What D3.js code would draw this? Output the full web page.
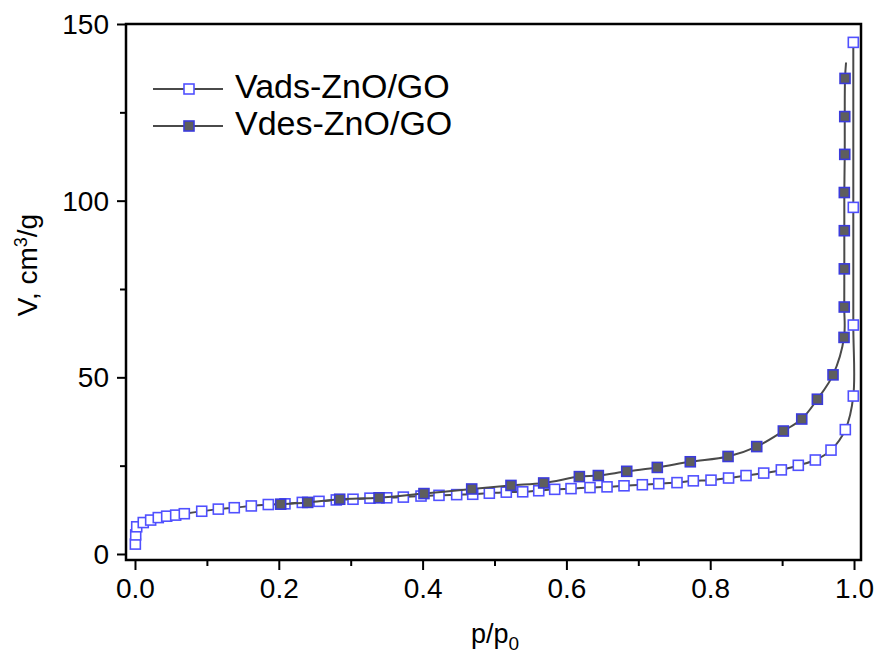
<!DOCTYPE html>
<html>
<head>
<meta charset="utf-8">
<script src="https://cdn.jsdelivr.net/npm/d3@7"></script>
<style>
  body { margin: 0; background: #fff; }
  svg text { font-family: "Liberation Sans", Arial, sans-serif; fill: #000; }
</style>
</head>
<body>
<svg id="chart"></svg>
<script>
// adsorption branch (p/p0, V cm3/g)
const adsP = [0.0005, 0.001, 0.0024, 0.0115, 0.0218, 0.0324, 0.0441, 0.0566, 0.0686, 0.0928,
  0.1159, 0.1381, 0.1618, 0.1854, 0.2086, 0.2327, 0.2559, 0.2800, 0.3032, 0.3268,
  0.3501, 0.3732, 0.3978, 0.4228, 0.4474, 0.4697, 0.4928, 0.5164, 0.5392, 0.5615,
  0.5837, 0.6064, 0.6328, 0.6565, 0.6801, 0.7056, 0.7284, 0.7538, 0.7765, 0.8011,
  0.8255, 0.8498, 0.8744, 0.8989, 0.9225, 0.9462, 0.9680, 0.9879, 0.9990, 0.9990,
  0.9990, 0.9990];
const adsV = [2.8, 5.4, 7.7, 8.9, 9.6, 10.3, 10.7, 11.0, 11.4, 12.1,
  12.7, 13.1, 13.6, 14.0, 14.2, 14.6, 14.9, 15.3, 15.5, 15.8,
  15.9, 16.1, 16.4, 16.6, 16.8, 16.9, 17.2, 17.5, 17.6, 17.9,
  18.3, 18.5, 18.8, 19.0, 19.3, 19.6, 19.9, 20.2, 20.7, 20.9,
  21.5, 22.2, 22.9, 23.8, 25.1, 26.6, 29.4, 35.2, 44.7, 64.8,
  98.1, 144.8];

// desorption branch; the first point is where the line starts (no symbol there)
const desP = [0.9889, 0.9875, 0.9871, 0.9871, 0.9865, 0.9865, 0.9865, 0.9864, 0.9861, 0.9708,
  0.9490, 0.9273, 0.9017, 0.8647, 0.8248, 0.7723, 0.7264, 0.6839, 0.6444, 0.6180,
  0.5684, 0.5229, 0.4683, 0.4019, 0.3394, 0.2847, 0.2402, 0.2026];
const desV = [139.1, 134.6, 123.8, 113.1, 102.3, 91.5, 80.7, 69.9, 61.3, 50.7,
  43.8, 38.2, 34.8, 30.4, 27.6, 26.1, 24.5, 23.4, 22.2, 21.9,
  20.1, 19.4, 18.4, 17.1, 15.9, 15.5, 14.6, 14.1];

const seriesNames = ['Vads-ZnO/GO', 'Vdes-ZnO/GO'];
const xTicks = [0, 0.2, 0.4, 0.6, 0.8, 1.0];
const xMinor = [0.1, 0.3, 0.5, 0.7, 0.9];
const yTicks = [0, 50, 100, 150];
const yMinor = [25, 75, 125];

const W = 881, H = 654;
const svg = d3.select('#chart').attr('width', W).attr('height', H);

const x = d3.scaleLinear().domain([-0.0125, 1.0097]).range([126, 861]);
const y = d3.scaleLinear().domain([-1.7, 150]).range([560, 24]);

const ads = adsP.map((p, i) => ({p: p, v: adsV[i]}));
const des = desP.map((p, i) => ({p: p, v: desV[i]}));

// axes
const fontSize = 28;
const xAxis = svg.append('g')
  .attr('transform', `translate(0,${y.range()[0]})`)
  .call(d3.axisBottom(x).tickValues(xTicks).tickSize(10).tickPadding(8)
    .tickFormat(d3.format('.1f')));
svg.append('g')
  .attr('transform', `translate(0,${y.range()[0]})`)
  .call(d3.axisBottom(x).tickValues(xMinor).tickSize(6).tickFormat(''))
  .call(g => g.select('.domain').remove());

const yAxis = svg.append('g')
  .attr('transform', `translate(${x.range()[0]},0)`)
  .call(d3.axisLeft(y).tickValues(yTicks).tickSize(9).tickPadding(8));
svg.append('g')
  .attr('transform', `translate(${x.range()[0]},0)`)
  .call(d3.axisLeft(y).tickValues(yMinor).tickSize(6).tickFormat(''))
  .call(g => g.select('.domain').remove());

svg.selectAll('.tick line').attr('stroke', '#000').attr('stroke-width', 2);
svg.selectAll('.domain').remove();
svg.selectAll('.tick text')
  .style('font-size', fontSize + 'px')
  .style('font-family', '"Liberation Sans", Arial, sans-serif');
xAxis.selectAll('.tick text').attr('dy', '0.71em');
yAxis.selectAll('.tick text').attr('dy', '0.34em');

// frame
svg.append('rect')
  .attr('x', x.range()[0]).attr('y', y.range()[1])
  .attr('width', x.range()[1] - x.range()[0])
  .attr('height', y.range()[0] - y.range()[1])
  .attr('fill', 'none').attr('stroke', '#000').attr('stroke-width', 2.5);

// axis titles
const xt = svg.append('text')
  .attr('x', 495).attr('y', 643)
  .attr('text-anchor', 'middle')
  .style('font-size', '27px');
xt.append('tspan').text('p/p');
xt.append('tspan').attr('dy', 7).style('font-size', '19px').text('0');

const yt = svg.append('text')
  .attr('transform', 'translate(37,265) rotate(-90)')
  .attr('text-anchor', 'middle')
  .style('font-size', '28px');
yt.append('tspan').text('V, cm');
yt.append('tspan').attr('dy', -10).style('font-size', '18px').text('3');
yt.append('tspan').attr('dy', 10).text('/g');

// curves
const line = d3.line()
  .x(d => x(d.p))
  .y(d => y(d.v))
  .curve(d3.curveCatmullRom.alpha(0.5));

const ms = 10;
const styles = [
  {fill: '#fff', stroke: '#5050ff'},
  {fill: '#5e5e5e', stroke: '#3b3bdc'}
];

function drawSeries(data, st, skipFirst) {
  svg.append('path')
    .datum(data)
    .attr('fill', 'none')
    .attr('stroke', '#4a4a4a')
    .attr('stroke-width', 2)
    .attr('d', line);
  svg.append('g').selectAll('rect')
    .data(skipFirst ? data.slice(1) : data)
    .enter().append('rect')
    .attr('x', d => x(d.p) - ms / 2)
    .attr('y', d => y(d.v) - ms / 2)
    .attr('width', ms).attr('height', ms)
    .attr('fill', st.fill)
    .attr('stroke', st.stroke)
    .attr('stroke-width', 1.6);
}

drawSeries(ads, styles[0], false);
drawSeries(des, styles[1], true);

// legend
const legend = svg.append('g');
seriesNames.forEach((name, i) => {
  const ly = 89 + i * 37;
  legend.append('line')
    .attr('x1', 153).attr('x2', 223).attr('y1', ly).attr('y2', ly)
    .attr('stroke', '#4a4a4a').attr('stroke-width', 2);
  legend.append('rect')
    .attr('x', 189 - 5).attr('y', ly - 5).attr('width', 10).attr('height', 10)
    .attr('fill', styles[i].fill).attr('stroke', styles[i].stroke).attr('stroke-width', 1.6);
  legend.append('text')
    .attr('x', 235).attr('y', ly + 9)
    .style('font-size', '34px')
    .text(name);
});
</script>
</body>
</html>
